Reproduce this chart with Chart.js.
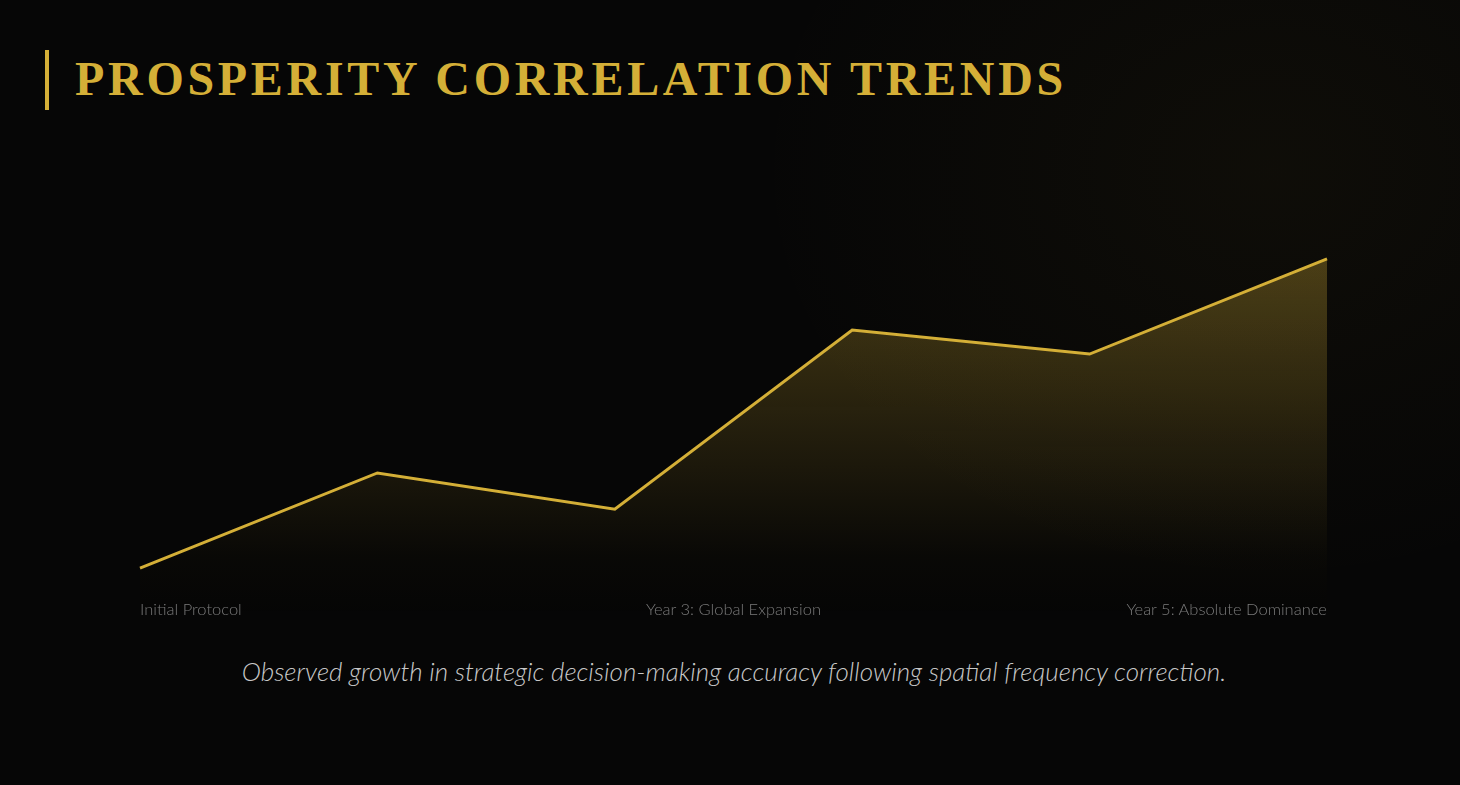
<!DOCTYPE html>
<html>
<head>
<meta charset="utf-8">
<script src="https://cdn.jsdelivr.net/npm/chart.js@4"></script>
<style>
  html, body {
    margin: 0;
    padding: 0;
    width: 1460px;
    height: 785px;
    overflow: hidden;
    background: #060606;
  }
  .page {
    position: relative;
    width: 1460px;
    height: 785px;
    background:
      radial-gradient(ellipse 520px 420px at 1270px 170px, rgba(212, 175, 55, 0.045), rgba(212, 175, 55, 0) 100%),
      #060606;
  }
  .title {
    position: absolute;
    left: 45px;
    top: 50px;
    height: 60px;
    border-left: 4px solid #D4AF37;
    padding-left: 26px;
    font-family: 'Liberation Serif', serif;
    font-weight: bold;
    font-size: 48px;
    line-height: 58px;
    letter-spacing: 3.7px;
    color: #D4AF37;
    white-space: nowrap;
  }
  .chart-box {
    position: absolute;
    left: 130px;
    top: 210px;
    width: 1207px;
    height: 407px;
  }
  .x-labels {
    position: absolute;
    left: 140px;
    top: 599px;
    width: 1187px;
    display: grid;
    grid-template-columns: 1fr 1fr 1fr;
    font-family: 'Lato', sans-serif;
    font-weight: 300;
    font-size: 16.5px;
    color: #7a7a7a;
  }
  .x-labels span:nth-child(1) { text-align: left; }
  .x-labels span:nth-child(2) { text-align: center; }
  .x-labels span:nth-child(3) { text-align: right; }
  .caption {
    position: absolute;
    left: 0;
    top: 655px;
    width: 1468px;
    text-align: center;
    font-family: 'Lato', sans-serif;
    font-weight: 300;
    font-style: italic;
    font-size: 26px;
    color: #c8c8c8;
  }
</style>
</head>
<body>
<div class="page">
  <div class="title">PROSPERITY CORRELATION TRENDS</div>
  <div class="chart-box"><canvas id="trend-chart"></canvas></div>
  <div class="x-labels" id="x-labels"></div>
  <div class="caption">Observed growth in strategic decision-making accuracy following spatial frequency correction.</div>
</div>

<script>
// ข้อมูลกราฟ
const periods = ['P0', 'P1', 'P2', 'P3', 'P4', 'P5'];
const accuracyValues = [12, 35.4, 26.5, 70.5, 64.6, 88];
const axisLabels = ['Initial Protocol', 'Year 3: Global Expansion', 'Year 5: Absolute Dominance'];

const gold = '#D4AF37';

// ป้ายกำกับด้านล่าง
const labelRow = document.getElementById('x-labels');
axisLabels.forEach(text => {
  const span = document.createElement('span');
  span.textContent = text;
  labelRow.appendChild(span);
});

// ไล่สีพื้นที่ใต้เส้น
function goldFill(context) {
  const area = context.chart.chartArea;
  if (!area) return 'rgba(212, 175, 55, 0.2)';
  const g = context.chart.ctx.createLinearGradient(0, area.top, 0, area.bottom);
  g.addColorStop(0, 'rgba(212, 175, 55, 0.36)');
  g.addColorStop(0.85, 'rgba(212, 175, 55, 0.02)');
  g.addColorStop(1, 'rgba(212, 175, 55, 0)');
  return g;
}

new Chart(document.getElementById('trend-chart'), {
  type: 'line',
  data: {
    labels: periods,
    datasets: [{
      data: accuracyValues,
      borderColor: gold,
      borderWidth: 3,
      backgroundColor: goldFill,
      fill: 'origin',
      tension: 0,
      pointRadius: 0,
      pointHoverRadius: 0
    }]
  },
  options: {
    responsive: true,
    maintainAspectRatio: false,
    animation: false,
    layout: { padding: { left: 10, right: 10, top: 0, bottom: 0 } },
    plugins: {
      legend: { display: false },
      tooltip: { enabled: false }
    },
    scales: {
      x: { display: false, offset: false },
      y: { display: false, min: 0, max: 100 }
    }
  }
});
</script>
</body>
</html>
